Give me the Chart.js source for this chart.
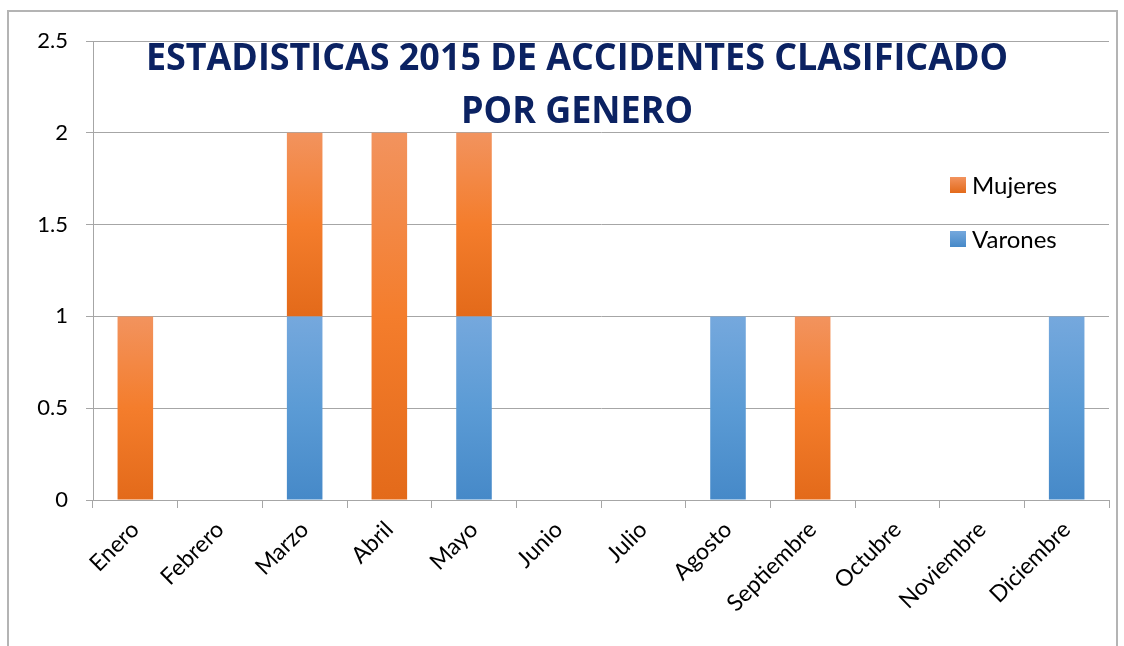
<!DOCTYPE html>
<html>
<head>
<meta charset="utf-8">
<script src="https://cdn.jsdelivr.net/npm/chart.js@4.4.1/dist/chart.umd.min.js"></script>
<style>
  html, body { margin: 0; padding: 0; background: #fff; overflow: hidden; }
  #wrap { position: relative; width: 1124px; height: 646px; }
  #marco { position: absolute; left: 7px; top: 10px; width: 1111px; height: 700px;
           border: 2px solid #b4b4b4; pointer-events: none; box-sizing: border-box; }
</style>
</head>
<body>
<div id="wrap">
  <canvas id="accidentes"></canvas>
  <div id="marco"></div>
</div>
<script>
var meses = ['Enero','Febrero','Marzo','Abril','Mayo','Junio','Julio','Agosto','Septiembre','Octubre','Noviembre','Diciembre'];
var varones = [0,0,1,0,1,0,0,1,0,0,0,1];
var mujeres = [1,0,1,2,1,0,0,0,1,0,0,0];
var ticksY = [0,0.5,1,1.5,2,2.5];
var titulo = ['ESTADISTICAS 2015 DE ACCIDENTES CLASIFICADO','POR GENERO'];

var colorMujeres = ['#f2935e','#f47d2c','#e36a1a'];
var colorVarones = ['#75a8dd','#5b9bd5','#4689c8'];

// gradiente vertical por cada segmento de barra
function degradado(context, colores, serie){
  var chart = context.chart;
  if(!chart.chartArea) return colores[1];
  var i = context.dataIndex;
  var base = serie === 0 ? 0 : varones[i];
  var valor = serie === 0 ? varones[i] : mujeres[i];
  var y = chart.scales.y;
  var y0 = y.getPixelForValue(base);
  var y1 = y.getPixelForValue(base + valor);
  if(y0 === y1) return colores[1];
  var g = chart.ctx.createLinearGradient(0, y1, 0, y0);
  g.addColorStop(0, colores[0]);
  g.addColorStop(0.5, colores[1]);
  g.addColorStop(1, colores[2]);
  return g;
}

var extras = {
  id: 'extras',
  afterDraw: function(chart){
    var ctx = chart.ctx;
    ctx.save();
    // titulo superpuesto
    ctx.fillStyle = '#0b2262';
    ctx.font = 'bold 37px "Open Sans"';
    ctx.textAlign = 'center';
    ctx.textBaseline = 'alphabetic';
    ctx.fillText(titulo[0], 577, 70, 862);
    ctx.fillText(titulo[1], 577, 123, 232);
    // leyenda
    var items = [
      {txt: 'Mujeres', col: colorMujeres, y: 185},
      {txt: 'Varones', col: colorVarones, y: 239}
    ];
    ctx.textAlign = 'left';
    ctx.textBaseline = 'middle';
    ctx.font = '24px Lato';
    items.forEach(function(it){
      var g = ctx.createLinearGradient(0, it.y - 8, 0, it.y + 8);
      g.addColorStop(0, it.col[0]);
      g.addColorStop(1, it.col[2]);
      ctx.fillStyle = g;
      ctx.fillRect(950, it.y - 8, 16, 16);
      ctx.fillStyle = '#000';
      ctx.fillText(it.txt, 972, it.y + 1);
    });
    ctx.restore();
  }
};

var ctx = document.getElementById('accidentes').getContext('2d');
var grafica = new Chart(ctx, {
  type: 'bar',
  data: {
    labels: meses,
    datasets: [{
      label: 'Varones',
      data: varones,
      backgroundColor: function(c){ return degradado(c, colorVarones, 0); },
      barPercentage: 0.42,
      categoryPercentage: 1
    },{
      label: 'Mujeres',
      data: mujeres,
      backgroundColor: function(c){ return degradado(c, colorMujeres, 1); },
      barPercentage: 0.42,
      categoryPercentage: 1
    }]
  },
  options: {
    responsive: true,
    maintainAspectRatio: false,
    animation: false,
    layout: { padding: { left: 0, top: 41, right: 15, bottom: 0 } },
    plugins: {
      legend: { display: false },
      title: { display: false },
      tooltip: { enabled: false }
    },
    scales: {
      x: {
        stacked: true,
        offset: true,
        grid: { display: true, drawOnChartArea: false, drawTicks: true, tickLength: 8, color: '#a6a6a6', offset: true },
        border: { color: '#a6a6a6' },
        ticks: { color: '#000', font: { family: 'Lato', size: 23 }, minRotation: 45, maxRotation: 45, padding: 8 },
        afterFit: function(s){ s.height = 146; }
      },
      y: {
        stacked: true,
        min: 0,
        max: 2.5,
        grid: { color: '#a6a6a6', tickLength: 7 },
        border: { color: '#a6a6a6' },
        afterBuildTicks: function(s){ s.ticks = ticksY.map(function(v){ return {value: v}; }); },
        ticks: { color: '#000', font: { family: 'Lato', size: 22 }, padding: 18,
                 callback: function(v){ return String(v); } },
        afterFit: function(s){ s.width = 93; }
      }
    }
  },
  plugins: [extras]
});
</script>
</body>
</html>
